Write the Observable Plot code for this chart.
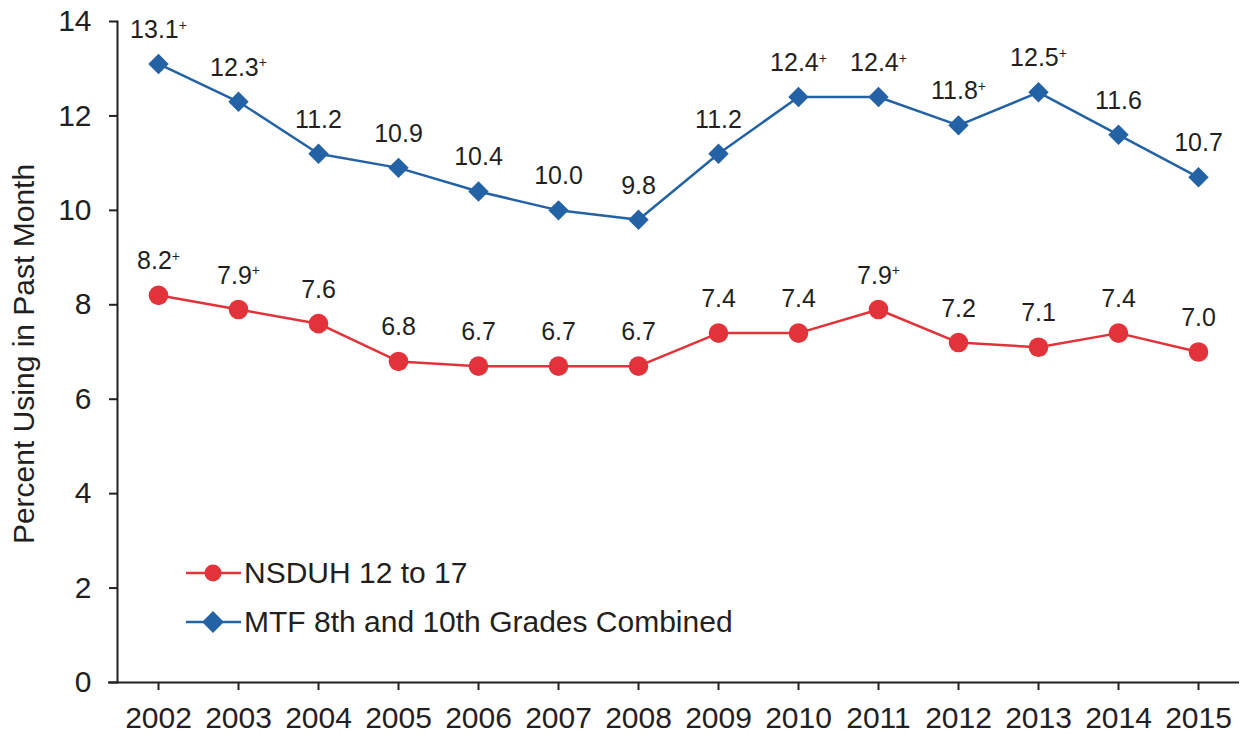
<!DOCTYPE html>
<html>
<head>
<meta charset="utf-8">
<script src="https://cdn.jsdelivr.net/npm/d3@7"></script>
<script src="https://cdn.jsdelivr.net/npm/@observablehq/plot@0.6"></script>
<style>
  html, body { margin: 0; padding: 0; background: #fff; }
  #wrap { position: relative; width: 1242px; height: 734px; font-family: "Liberation Sans", Arial, Helvetica, sans-serif; color: #231f20; }
  #legend { position: absolute; left: 186px; top: 548px; }
  .row { display: flex; align-items: center; height: 49px; }
  .row span { font-size: 30px; margin-left: 3px; white-space: nowrap; line-height: 1; }
</style>
</head>
<body>
<div id="wrap">
  <div id="chart"></div>
  <div id="legend"></div>
</div>
<script>
const years = ["2002","2003","2004","2005","2006","2007","2008","2009","2010","2011","2012","2013","2014","2015"];
const nsduh = [8.2, 7.9, 7.6, 6.8, 6.7, 6.7, 6.7, 7.4, 7.4, 7.9, 7.2, 7.1, 7.4, 7.0];
const nsduhSig = [1, 1, 0, 0, 0, 0, 0, 0, 0, 1, 0, 0, 0, 0];
const mtf = [13.1, 12.3, 11.2, 10.9, 10.4, 10.0, 9.8, 11.2, 12.4, 12.4, 11.8, 12.5, 11.6, 10.7];
const mtfSig = [1, 1, 0, 0, 0, 0, 0, 0, 1, 1, 1, 1, 0, 0];
const seriesNames = ["NSDUH 12 to 17", "MTF 8th and 10th Grades Combined"];
const yTicks = [0, 2, 4, 6, 8, 10, 12, 14];
const yTitle = "Percent Using in Past Month";

const RED = "#e2323a";
const BLUE = "#2462a6";
const INK = "#231f20";

const nsduhData = years.map((y, i) => ({year: y, value: nsduh[i], label: nsduh[i].toFixed(1) + (nsduhSig[i] ? "+" : "")}));
const mtfData = years.map((y, i) => ({year: y, value: mtf[i], label: mtf[i].toFixed(1) + (mtfSig[i] ? "+" : "")}));

const chart = Plot.plot({
  width: 1242,
  height: 734,
  marginLeft: 117,
  marginRight: 3,
  marginTop: 21,
  marginBottom: 52,
  style: {fontFamily: '"Liberation Sans", Arial, Helvetica, sans-serif', color: INK, background: "#fff", overflow: "visible"},
  x: {type: "point", domain: years, padding: 0.5},
  y: {domain: [0, 14]},
  marks: [
    Plot.axisX({tickSize: 8, tickPadding: 16, fontSize: 30, label: null, strokeWidth: 2}),
    Plot.axisY({ticks: yTicks, tickSize: 8, tickPadding: 18, fontSize: 30, label: null, strokeWidth: 2}),
    Plot.ruleY([0], {stroke: INK, strokeWidth: 2, insetLeft: -9}),
    Plot.frame({anchor: "left", stroke: INK, strokeWidth: 2}),
    Plot.text([yTitle], {text: d => d, frameAnchor: "left", textAnchor: "middle", rotate: -90, dx: -84, dy: 2, lineAnchor: "bottom", fontSize: 30, fill: INK}),
    Plot.line(mtfData, {x: "year", y: "value", stroke: BLUE, strokeWidth: 2.5}),
    Plot.line(nsduhData, {x: "year", y: "value", stroke: RED, strokeWidth: 2.5}),
    Plot.dot(mtfData, {x: "year", y: "value", symbol: "diamond2", r: 9.2, fill: BLUE, stroke: null}),
    Plot.dot(nsduhData, {x: "year", y: "value", symbol: "circle", r: 9.8, fill: RED, stroke: null}),
    Plot.text(mtfData, {x: "year", y: "value", text: "label", dy: -34, fontSize: 25, fill: INK}),
    Plot.text(nsduhData, {x: "year", y: "value", text: "label", dy: -34, fontSize: 25, fill: INK})
  ]
});

// superscript the significance "+" markers
chart.querySelectorAll("text").forEach(t => {
  const s = t.textContent;
  if (/^\d+\.\d\+$/.test(s)) {
    t.textContent = s.slice(0, -1);
    const ts = document.createElementNS("http://www.w3.org/2000/svg", "tspan");
    ts.setAttribute("font-size", "0.56em");
    ts.setAttribute("dy", "-0.6em");
    ts.textContent = "+";
    t.appendChild(ts);
  }
});

document.getElementById("chart").appendChild(chart);

// legend
const legend = document.getElementById("legend");
const colors = [RED, BLUE];
const shapes = ["circle", "diamond"];
seriesNames.forEach((name, i) => {
  const row = document.createElement("div");
  row.className = "row";
  const svg = d3.create("svg").attr("width", 55).attr("height", 26);
  svg.append("line").attr("x1", 0).attr("x2", 55).attr("y1", 13).attr("y2", 13)
    .attr("stroke", colors[i]).attr("stroke-width", 2.5);
  if (shapes[i] === "circle") {
    svg.append("circle").attr("cx", 27).attr("cy", 13).attr("r", 8.5).attr("fill", colors[i]);
  } else {
    svg.append("path").attr("transform", "translate(27,13)")
      .attr("d", d3.symbol(d3.symbolDiamond2, Math.PI * 9.8 * 9.8)()).attr("fill", colors[i]);
  }
  row.appendChild(svg.node());
  const span = document.createElement("span");
  span.textContent = name;
  row.appendChild(span);
  legend.appendChild(row);
});
</script>
</body>
</html>
